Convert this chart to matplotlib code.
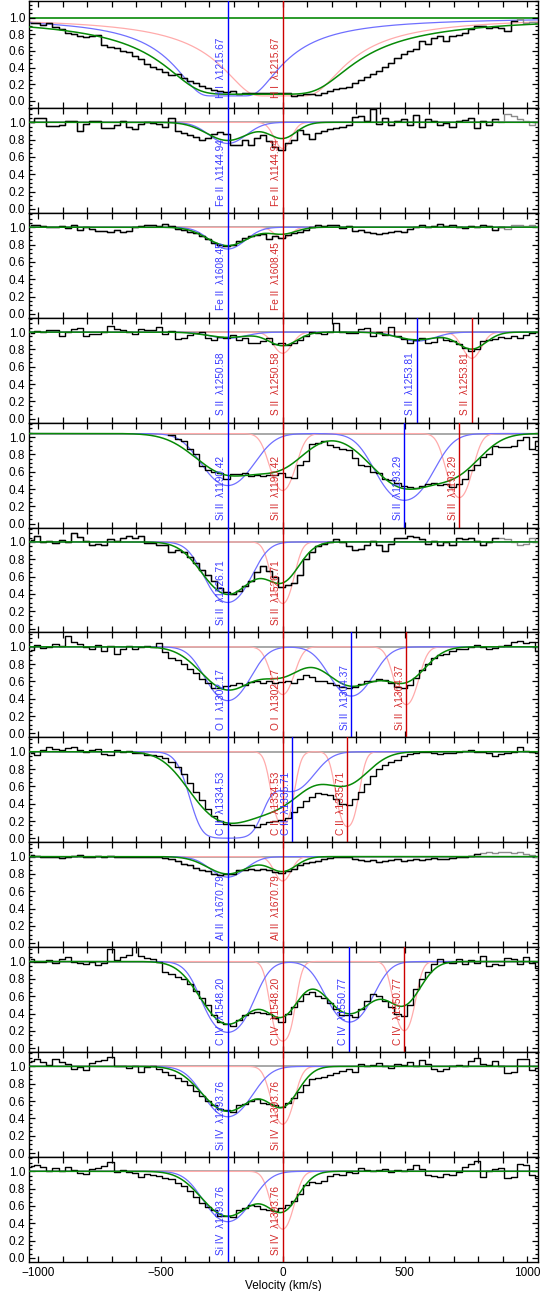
import numpy as np
import matplotlib
matplotlib.use('Agg')
import matplotlib.pyplot as plt
from matplotlib.ticker import MultipleLocator

plt.rcParams['font.family'] = ['Liberation Sans', 'DejaVu Sans']

nan = np.nan
# velocity bin centres (km/s), 25 km/s bins
VEL = np.arange(-1030, 1046, 25)

FLUX_HI1215 = [0.93,0.93,0.91,0.94,0.89,0.86,0.81,0.80,0.78,0.77,
               0.78,0.79,0.67,0.65,0.64,0.60,0.59,0.54,0.50,0.44,
               0.41,0.38,0.35,0.31,0.32,0.27,0.24,0.21,0.18,0.15,
               0.13,0.12,0.11,0.12,0.08,0.09,0.10,0.09,0.10,0.09,
               0.10,0.09,0.10,0.06,0.07,0.08,0.08,0.07,0.10,0.12,
               0.14,0.16,0.17,0.21,0.25,0.29,0.32,0.36,0.41,0.45,
               0.52,0.56,0.60,0.62,0.72,0.68,0.75,0.78,0.72,0.78,
               0.79,0.82,0.86,0.90,0.90,0.88,0.89,0.88,0.84,0.96,
               0.98,0.94,0.95,0.94]
FLUX_FEII1144 = [1.00,1.05,1.05,0.96,0.96,0.97,1.01,1.02,0.90,0.98,
                 1.01,1.02,0.94,0.94,0.97,1.01,0.95,0.92,0.98,1.00,
                 0.99,0.98,0.95,1.05,0.90,0.88,0.85,0.83,0.80,0.82,
                 0.86,0.89,0.86,0.74,0.74,0.80,0.74,0.82,0.85,0.78,
                 0.72,0.68,0.76,0.80,0.91,0.86,0.81,0.88,0.90,0.92,
                 0.93,0.95,0.97,1.06,1.07,1.02,1.15,0.98,1.05,0.97,
                 1.02,1.04,0.97,1.08,0.95,1.04,1.02,0.97,0.99,0.95,
                 1.01,1.03,1.05,0.94,1.02,0.97,1.04,1.00,1.10,1.07,
                 1.04,1.01,0.97,1.00]
FLUX_FEII1608 = [1.02,1.03,1.01,1.00,1.00,1.01,0.99,1.02,0.97,1.00,
                 0.98,0.96,0.96,0.95,0.97,0.94,0.96,1.00,1.01,1.02,
                 1.03,1.01,1.04,1.01,0.98,0.97,0.95,0.93,0.90,0.86,
                 0.82,0.80,0.78,0.80,0.84,0.88,0.90,0.91,0.92,0.86,
                 0.90,0.88,0.91,0.93,0.95,0.97,1.00,1.02,1.01,1.03,
                 1.02,0.99,1.01,0.96,0.97,0.94,0.93,0.92,0.93,0.95,
                 0.96,0.95,0.98,1.00,1.02,1.00,1.01,1.04,1.01,1.02,
                 1.00,0.99,1.01,1.00,1.02,1.01,0.97,1.00,0.98,1.02,
                 1.03,1.01,1.02,1.00]
FLUX_SII1250 = [0.99,1.01,1.00,1.03,1.02,0.96,1.00,1.04,1.05,0.96,
                0.98,0.98,1.00,1.07,1.04,1.02,1.00,0.98,1.04,1.03,
                1.02,1.06,0.98,1.01,0.92,0.93,0.97,0.99,1.00,0.93,
                0.91,0.94,0.93,0.97,0.91,0.93,0.87,0.87,0.90,0.93,
                0.86,0.88,0.85,0.88,0.91,0.95,1.00,0.99,0.98,1.00,
                1.10,1.00,0.99,0.99,1.04,1.05,0.96,1.00,0.97,1.06,
                0.96,0.92,0.88,0.91,0.93,0.87,0.89,0.94,0.91,0.90,
                0.86,0.82,0.78,0.80,0.90,0.91,0.92,0.94,0.93,0.96,
                0.93,0.97,0.99,1.00]
FLUX_SIII1190 = [nan,nan,nan,nan,nan,nan,nan,nan,nan,nan,
                 nan,nan,nan,nan,nan,nan,nan,nan,nan,nan,
                 nan,nan,nan,1.02,0.98,0.95,0.86,0.80,0.66,0.62,
                 0.60,0.58,0.52,0.57,0.57,0.58,0.55,0.56,0.55,0.56,
                 0.56,0.59,0.54,0.53,0.68,0.72,0.92,0.93,0.95,0.91,
                 0.88,0.86,0.85,0.76,0.68,0.66,0.60,0.58,0.52,0.50,
                 0.47,0.43,0.42,0.41,0.44,0.46,0.47,0.45,0.46,0.42,
                 0.46,0.52,0.62,0.68,0.77,0.80,0.90,0.89,0.88,0.90,
                 0.96,1.00,0.86,0.95]
FLUX_SIII1526 = [1.02,1.07,1.00,1.01,0.99,1.02,1.00,1.10,1.06,1.01,
                 0.97,0.98,0.96,1.03,1.01,1.05,1.07,1.04,1.07,0.99,
                 0.99,0.97,0.96,0.88,0.91,0.88,0.83,0.76,0.68,0.62,
                 0.55,0.47,0.42,0.40,0.43,0.49,0.55,0.65,0.72,0.66,
                 0.60,0.48,0.50,0.53,0.62,0.80,0.88,0.95,0.98,1.00,
                 1.03,1.00,0.95,0.91,0.92,0.97,1.01,0.96,0.90,0.98,
                 1.04,1.05,1.07,1.06,1.03,0.98,1.01,0.96,1.00,0.97,
                 1.04,1.03,1.05,1.01,0.97,1.00,1.04,1.05,1.03,1.00,
                 0.96,0.98,1.04,1.00]
FLUX_OI1302 = [0.96,1.02,0.99,1.00,1.03,1.01,1.12,1.06,1.03,1.00,
               0.97,1.02,0.95,1.01,0.92,0.97,1.01,0.97,1.00,1.01,
               1.00,1.04,0.94,0.87,0.85,0.80,0.74,0.70,0.63,0.58,
               0.53,0.52,0.55,0.56,0.58,0.56,0.59,0.61,0.58,0.60,
               0.58,0.59,0.61,0.58,0.63,0.67,0.65,0.61,0.60,0.58,
               0.56,0.54,0.52,0.54,0.57,0.61,0.60,0.63,0.62,0.58,
               0.54,0.52,0.56,0.64,0.73,0.80,0.87,0.90,0.92,0.95,
               0.97,0.97,1.00,1.02,1.00,0.97,0.99,1.01,1.02,1.06,
               1.07,1.04,1.06,0.95]
FLUX_CII1334 = [0.99,0.96,1.02,1.05,1.03,1.02,1.04,1.05,1.02,1.00,
                1.02,1.03,0.97,0.96,1.02,1.00,1.01,0.98,0.98,0.96,
                0.96,0.95,0.93,0.88,0.82,0.74,0.64,0.54,0.44,0.34,
                0.26,0.20,0.17,0.16,0.15,0.15,0.15,0.13,0.17,0.19,
                0.20,0.21,0.24,0.31,0.36,0.43,0.48,0.52,0.51,0.50,
                0.46,0.40,0.38,0.45,0.53,0.63,0.72,0.80,0.85,0.88,
                0.91,0.95,0.97,0.98,1.00,1.00,0.98,0.97,0.99,0.99,
                1.00,1.01,1.02,1.00,1.00,0.98,0.95,0.97,0.98,1.00,
                1.06,1.01,1.00,0.99]
FLUX_ALII1670 = [1.02,1.01,1.00,1.00,1.00,0.98,0.99,1.01,1.02,1.00,
                 1.00,1.01,0.99,1.01,1.00,1.00,1.00,1.00,1.00,1.00,
                 0.99,0.99,0.98,0.97,0.95,0.92,0.90,0.87,0.85,0.83,
                 0.80,0.79,0.80,0.80,0.84,0.85,0.86,0.85,0.86,0.84,
                 0.82,0.81,0.83,0.86,0.90,0.93,0.94,0.95,0.97,0.98,
                 0.99,1.00,0.99,0.97,0.96,0.95,0.96,0.94,0.95,0.96,
                 0.97,0.95,0.96,0.97,0.96,0.97,0.98,0.97,0.97,0.98,
                 0.99,1.00,1.01,1.03,1.04,1.05,1.04,1.05,1.05,1.04,
                 1.05,1.03,1.02,1.00]
FLUX_CIV1548 = [1.03,1.00,1.00,1.02,0.98,1.03,1.05,1.00,0.98,0.97,
                0.99,0.96,0.98,1.15,1.02,1.05,1.08,1.18,1.06,1.04,
                1.03,1.00,0.88,0.86,0.82,0.80,0.74,0.66,0.58,0.50,
                0.38,0.30,0.28,0.26,0.32,0.38,0.41,0.42,0.41,0.40,
                0.35,0.30,0.40,0.47,0.55,0.63,0.65,0.60,0.58,0.52,
                0.45,0.38,0.38,0.36,0.45,0.55,0.62,0.60,0.55,0.48,
                0.40,0.37,0.50,0.68,0.80,0.88,0.97,1.03,1.00,0.98,
                1.03,0.97,1.02,0.98,1.06,0.95,0.97,0.96,1.04,1.03,
                0.97,1.05,0.98,0.93]
FLUX_SIIV1393A = [1.06,1.08,1.05,1.02,1.09,1.05,1.03,0.97,0.99,0.96,
                  1.04,1.06,1.07,1.11,1.00,1.01,0.98,1.00,0.94,0.99,
                  1.00,0.97,0.93,0.90,0.87,0.83,0.78,0.72,0.66,0.60,
                  0.55,0.51,0.50,0.47,0.55,0.57,0.60,0.62,0.58,0.57,
                  0.55,0.53,0.58,0.63,0.70,0.78,0.86,0.87,0.88,0.90,
                  0.92,0.95,0.97,0.94,1.03,1.00,1.02,1.04,1.00,0.98,
                  1.03,1.02,1.05,1.01,1.07,1.03,0.97,0.95,0.97,1.00,
                  1.02,1.00,1.06,1.10,1.03,1.02,1.06,1.00,0.92,0.94,
                  1.09,1.08,0.96,0.98]
FLUX_SIIV1393B = [1.06,1.07,1.05,1.00,1.04,1.00,1.05,1.01,0.98,0.97,
                  1.03,1.04,1.06,1.11,0.99,1.01,0.99,0.98,0.94,0.97,
                  0.96,0.95,0.92,0.91,0.87,0.83,0.77,0.70,0.64,0.59,
                  0.55,0.49,0.48,0.47,0.55,0.58,0.61,0.60,0.57,0.55,
                  0.54,0.58,0.61,0.66,0.74,0.84,0.88,0.87,0.89,0.95,
                  0.97,0.96,0.99,0.98,1.04,1.01,1.00,1.02,1.03,0.99,
                  1.02,1.00,1.03,1.07,1.03,0.96,0.95,0.94,0.97,0.96,
                  0.99,1.05,1.08,1.12,0.93,1.00,1.03,1.04,0.92,0.94,
                  1.08,1.07,0.96,0.92]

# transition labels: (velocity, text, colour key)
LABELS = [
    [(-225, 'H I  λ1215.67', 'b'), (0, 'H I  λ1215.67', 'r')],
    [(-225, 'Fe II  λ1144.94', 'b'), (0, 'Fe II  λ1144.94', 'r')],
    [(-225, 'Fe II  λ1608.45', 'b'), (0, 'Fe II  λ1608.45', 'r')],
    [(-225, 'S II  λ1250.58', 'b'), (0, 'S II  λ1250.58', 'r'),
     (549, 'S II  λ1253.81', 'b'), (774, 'S II  λ1253.81', 'r')],
    [(-225, 'Si II  λ1190.42', 'b'), (0, 'Si II  λ1190.42', 'r'),
     (498, 'Si II  λ1193.29', 'b'), (723, 'Si II  λ1193.29', 'r')],
    [(-225, 'Si II  λ1526.71', 'b'), (0, 'Si II  λ1526.71', 'r')],
    [(-225, 'O I  λ1302.17', 'b'), (0, 'O I  λ1302.17', 'r'),
     (281, 'Si II  λ1304.37', 'b'), (506, 'Si II  λ1304.37', 'r')],
    [(-225, 'C II  λ1334.53', 'b'), (0, 'C II  λ1334.53', 'r'),
     (40, 'C II  λ1335.71', 'b'), (265, 'C II  λ1335.71', 'r')],
    [(-225, 'Al II  λ1670.79', 'b'), (0, 'Al II  λ1670.79', 'r')],
    [(-225, 'C IV  λ1548.20', 'b'), (0, 'C IV  λ1548.20', 'r'),
     (273, 'C IV  λ1550.77', 'b'), (498, 'C IV  λ1550.77', 'r')],
    [(-225, 'Si IV  λ1393.76', 'b'), (0, 'Si IV  λ1393.76', 'r')],
    [(-225, 'Si IV  λ1393.76', 'b'), (0, 'Si IV  λ1393.76', 'r')],
]

FLUXES = [FLUX_HI1215, FLUX_FEII1144, FLUX_FEII1608, FLUX_SII1250,
          FLUX_SIII1190, FLUX_SIII1526, FLUX_OI1302, FLUX_CII1334,
          FLUX_ALII1670, FLUX_CIV1548, FLUX_SIIV1393A, FLUX_SIIV1393B]
# velocity above which the spectrum is masked (drawn grey)
MASK_FROM = [960, 880, 900, None, None, 890, None, None, 800, None, None, None]

# fitted components: (centre km/s, optical depth, width km/s, kind)
BLUE_COMP = [
    [(-225, 46800, 30, 'l')],
    [(-225, 0.28, 100, 'g')],
    [(-225, 0.29, 95, 'g')],
    [(-225, 0.075, 100, 'g'), (549, 0.11, 100, 'g')],
    [(-225, 0.86, 125, 'g'), (498, 1.35, 125, 'g')],
    [(-225, 1.2, 105, 'g')],
    [(-225, 0.97, 105, 'g'), (281, 0.84, 105, 'g')],
    [(-225, 6.0, 108, 'g'), (40, 0.6, 108, 'g')],
    [(-225, 0.27, 95, 'g')],
    [(-225, 1.7, 105, 'g'), (273, 1.2, 105, 'g')],
    [(-225, 0.87, 115, 'g')],
    [(-225, 0.87, 115, 'g')],
]
PINK_COMP = [
    [(0, 62370, 30, 'l')],
    [(0, 0.36, 45, 'g')],
    [(0, 0.14, 45, 'g')],
    [(0, 0.28, 50, 'g'), (774, 0.36, 50, 'g')],
    [(0, 1.0, 60, 'g'), (723, 1.24, 58, 'g')],
    [(0, 1.24, 50, 'g')],
    [(0, 0.8, 55, 'g'), (506, 1.1, 55, 'g')],
    [(0, 1.9, 45, 'g'), (265, 2.0, 45, 'g')],
    [(0, 0.33, 45, 'g')],
    [(0, 2.5, 46, 'g'), (498, 1.6, 46, 'g')],
    [(0, 1.1, 52, 'g')],
    [(0, 1.1, 52, 'g')],
]
CONT = [1.0, 1.0, 1.0, 1.0, 1.04, 1.0, 1.0, 1.0, 1.0, 1.0, 1.0, 1.0]
FLOOR = [0.06, 0, 0, 0, 0, 0, 0, 0, 0, 0, 0, 0]
GFLOOR = [0.08, 0, 0, 0, 0, 0, 0, 0.12, 0, 0, 0, 0]
LSF = [45, 45, 45, 45, 85, 55, 68, 80, 45, 56, 50, 50]

C_BLUE = '#0000ff'
C_RED = '#cc0000'
C_BLAB = '#3a3aff'
C_RLAB = '#d42a2a'
C_BCURVE = '#6f6fff'
C_PCURVE = '#ffabab'
C_GREEN = '#078a07'


def tau(v, comps):
    t = np.zeros_like(v)
    for v0, t0, w, kind in comps:
        if kind == 'g':
            t += t0 * np.exp(-((v - v0) / w) ** 2)
        else:
            t += t0 / ((v - v0) ** 2 + w ** 2)
    return t


grid = np.arange(-2600, 2600.1, 2.0)

W, H = 540, 1291
fig = plt.figure(figsize=(W / 100, H / 100), dpi=100)
left = 28.6 / W
width = (538 - 28.6) / W
tops = [1.0] + [108 + 104.9 * i for i in range(11)]
bots = [108.0] + [108 + 104.9 * (i + 1) for i in range(11)]

for i in range(12):
    ax = fig.add_axes([left, 1 - bots[i] / H, width, (bots[i] - tops[i]) / H])
    cont = CONT[i]
    fl = FLOOR[i]
    tb = tau(grid, BLUE_COMP[i])
    tp = tau(grid, PINK_COMP[i])
    blue = cont * (fl + (1 - fl) * np.exp(-tb))
    pink = cont * (fl + (1 - fl) * np.exp(-tp))
    s = LSF[i]
    kx = np.arange(-4 * s, 4 * s + 0.1, 2.0)
    ker = np.exp(-0.5 * (kx / s) ** 2)
    ker /= ker.sum()
    tot = np.convolve(np.exp(-(tb + tp)), ker, mode='same')
    gf = GFLOOR[i]
    green = cont * (gf + (1 - gf) * tot)

    # continuum
    ax.axhline(cont, color=C_GREEN if i == 0 else '#9a9a9a', lw=1.2, zorder=1)
    ax.plot(grid, pink, color=C_PCURVE, lw=0.9, zorder=2)
    ax.plot(grid, blue, color=C_BCURVE, lw=0.9, zorder=2)

    f = np.array(FLUXES[i], dtype=float)
    m = MASK_FROM[i]
    if m is not None:
        ax.step(VEL, f, where='mid', color='#8c8c8c', lw=1.0, zorder=3)
        fb = np.where(VEL <= m, f, np.nan)
        ax.step(VEL, fb, where='mid', color='black', lw=1.0, zorder=4)
    else:
        ax.step(VEL, f, where='mid', color='black', lw=1.0, zorder=4)
    ax.plot(grid, green, color=C_GREEN, lw=1.1, zorder=5)

    for v, txt, c in LABELS[i]:
        ax.axvline(v, color=C_BLUE if c == 'b' else C_RED, lw=1.0, zorder=6)
        ax.annotate(txt, xy=(v, 0.04), xycoords='data', xytext=(-1, 0),
                    textcoords='offset points', rotation=90, ha='right',
                    va='bottom', fontsize=7.3,
                    color=C_BLAB if c == 'b' else C_RLAB, zorder=7)

    ax.set_xlim(-1040, 1045)
    if i == 0:
        ax.set_ylim(-0.085, 1.2)
    else:
        ax.set_ylim(-0.045, 1.165)
    ax.xaxis.set_major_locator(MultipleLocator(500))
    ax.xaxis.set_minor_locator(MultipleLocator(100))
    ax.yaxis.set_minor_locator(MultipleLocator(0.05))
    ax.set_yticks([0.0, 0.2, 0.4, 0.6, 0.8, 1.0])
    ax.set_yticklabels(['0.0', '0.2', '0.4', '0.6', '0.8', '1.0'])
    ax.tick_params(which='both', direction='in', top=True, right=True,
                   labelsize=8.5, width=0.9)
    ax.tick_params(axis='y', which='major', length=4.5, pad=2.5)
    ax.tick_params(axis='y', which='minor', length=2.5)
    ax.tick_params(axis='x', which='both', length=4)
    for sp in ax.spines.values():
        sp.set_linewidth(1.0)
    if i < 11:
        ax.tick_params(axis='x', labelbottom=False)
    else:
        ax.set_xlabel('Velocity (km/s)', fontsize=8.5, labelpad=1)

fig.savefig('out.png', dpi=100)
